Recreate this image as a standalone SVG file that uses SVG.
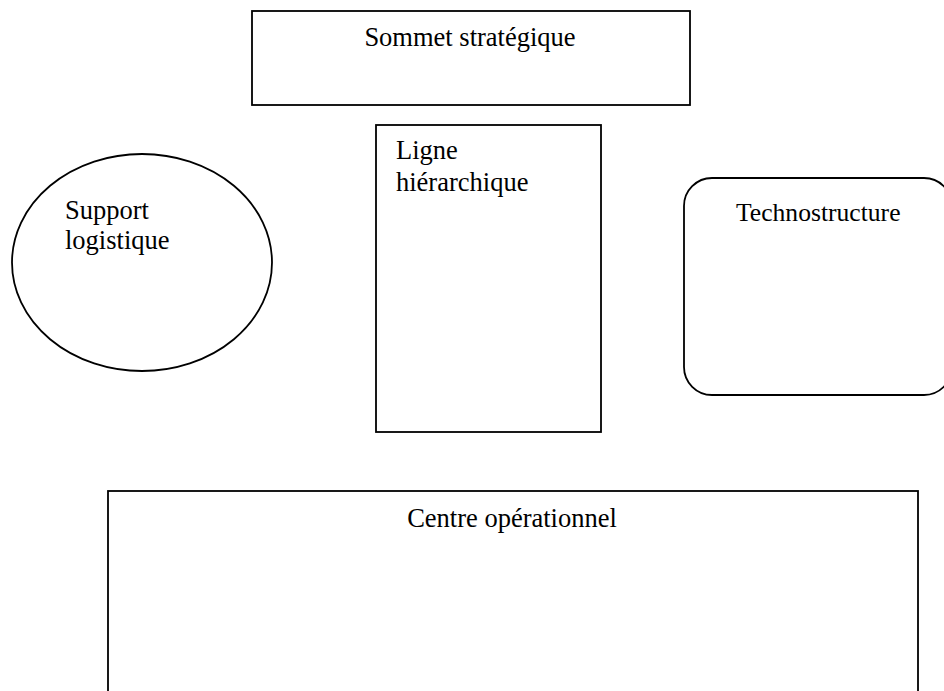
<svg xmlns="http://www.w3.org/2000/svg" width="944" height="691" viewBox="0 0 944 691">
<style>
.shape{fill:#fff;stroke:#000;stroke-width:1.8}
.lbl{font-family:"Liberation Serif","Times New Roman",serif;font-size:26.5px;fill:#000}
.mid{text-anchor:middle}
</style>
<rect width="944" height="691" fill="#fff"/>
<g id="connectors"></g>
<g id="sommet">
<rect class="shape" x="252" y="11" width="438" height="94"/>
<text class="lbl mid" x="470" y="46">Sommet stratégique</text>
</g>
<g id="support">
<ellipse class="shape" cx="142" cy="262.5" rx="130" ry="108.5"/>
<text class="lbl" x="65" y="219">Support</text>
<text class="lbl" x="65" y="249">logistique</text>
</g>
<g id="ligne">
<rect class="shape" x="376" y="125" width="225" height="307"/>
<text class="lbl" x="396" y="159">Ligne</text>
<text class="lbl" x="396" y="191">hiérarchique</text>
</g>
<g id="techno">
<rect class="shape" x="684" y="178" width="268" height="217" rx="28" ry="28"/>
<text class="lbl" x="736" y="221" style="font-size:25.6px">Technostructure</text>
</g>
<g id="centre">
<rect class="shape" x="108" y="491" width="810" height="220"/>
<text class="lbl mid" x="512" y="527">Centre opérationnel</text>
</g>
</svg>
